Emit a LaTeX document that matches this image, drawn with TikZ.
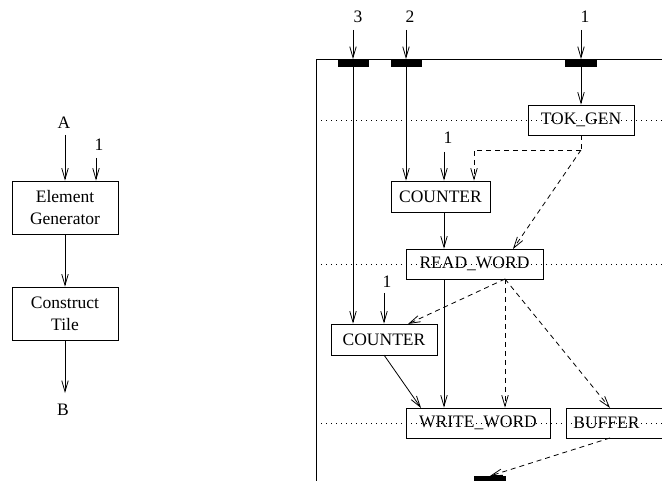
\documentclass[tikz,border=0pt]{standalone}
\usepackage{fontspec}
\setmainfont{Liberation Serif}
\usetikzlibrary{arrows.meta}
\tikzset{
  arr/.style={-{Straight Barb[length=11pt,width=6.5pt]}},
  box/.style={draw, line width=0.8pt, inner sep=0pt, align=center},
  dsh/.style={dash pattern=on 5pt off 4pt},
  dot/.style={dash pattern=on 1pt off 4pt, line width=0.8pt},
  lbl/.style={inner sep=0pt},
  bar/.style={fill=black, draw=none},
}
\begin{document}
\begin{tikzpicture}[x=1pt,y=-1pt,line width=0.8pt,font=\fontsize{17.5}{22}\selectfont]
\useasboundingbox (0,0) rectangle (662,481);
\clip (0,0) rectangle (662,481);
% ---------- left part ----------
\node[box, minimum width=106pt, minimum height=53pt] (EG) at (65,207.5) {Element\\Generator};
\node[box, minimum width=106pt, minimum height=53pt] (CT) at (65,313.5) {Construct\\Tile};
\node[lbl] (A) at (64,123) {A};
\node[lbl] (one0) at (99,145) {1};
\node[lbl] (B) at (63,410) {B};
\coordinate (a0) at (65,135);
\coordinate (o0) at (96,158);
\coordinate (b0) at (65,393);
\draw[arr] (a0) -- (a0 |- EG.north);
\draw[arr] (o0) -- (o0 |- EG.north);
\draw[arr] (EG.south) -- (CT.north);
\draw[arr] (CT.south) -- (b0);
% ---------- right part ----------
\draw[dot] (316,120) -- (662,120);
\draw[dot] (316,264) -- (662,264);
\draw[dot] (316,423) -- (662,423);
\draw (662,59) -- (316,59) -- (316,481);
\fill[bar] (338,59) rectangle (369,67);
\fill[bar] (391,59) rectangle (422,67);
\fill[bar] (565,59) rectangle (597,67);
\fill[bar] (474,476) rectangle (506,485);
\node[lbl] (L3) at (358,17) {3};
\node[lbl] (L2) at (410,17) {2};
\node[lbl] (L1) at (585,17) {1};
\coordinate (i3) at (353,30); \coordinate (p3) at (353,59);
\coordinate (i2) at (406,30); \coordinate (p2) at (406,59);
\coordinate (i1) at (581,30); \coordinate (p1) at (581,59);
% boxes
\node[box, minimum width=106pt, minimum height=30pt] (TOK) at (581,120) {TOK\_GEN};
\node[box, minimum width=99pt, minimum height=31pt] (C1) at (440.5,196.5) {COUNTER};
\node[box, minimum width=137pt, minimum height=30pt] (RW) at (474.5,264) {READ\_WORD};
\node[box, minimum width=106pt, minimum height=31pt] (C2) at (384,339.5) {COUNTER};
\node[box, minimum width=144pt, minimum height=30pt] (WW) at (478,423) {WRITE\_WORD};
\node[box, anchor=west, minimum height=30pt, text width=96pt, inner xsep=7pt, align=left] (BUF) at (566,423) {BUFFER};
\node[lbl] (one1) at (448,138) {1};
\node[lbl] (one2) at (387,282) {1};
\coordinate (o1) at (444,152);
\coordinate (o2) at (384,293);
% inputs
\draw[arr] (i3) -- (p3);
\draw[arr] (i2) -- (p2);
\draw[arr] (i1) -- (p1);
\draw[arr] (p3) -- (p3 |- C2.north);
\draw[arr] (p2) -- (p2 |- C1.north);
\draw[arr] (p1) -- (TOK.north);
\draw[arr] (o1) -- (o1 |- C1.north);
\draw[arr] (o2) -- (o2 |- C2.north);
% solid data flow
\coordinate (x444) at (444,0);
\draw[arr] (C1.south -| x444) -- (RW.north -| x444);
\draw[arr] (RW.south -| x444) -- (WW.north -| x444);
\coordinate (c2o) at (384,355);
\coordinate (wwi) at (421,408);
\draw[arr] (c2o) -- (wwi);
% dashed control flow
\coordinate (J) at (581,150);
\coordinate (jl) at (474,150);
\coordinate (rwi) at (513,249);
\draw[dsh] (TOK.south) -- (J);
\draw[dsh,arr] (J) -- (jl) -- (jl |- C1.north);
\draw[dsh,arr] (J) -- (rwi);
\coordinate (rwo) at (505,279);
\coordinate (c2i) at (408,324);
\coordinate (bufi) at (610,408);
\coordinate (bufo) at (610,438);
\coordinate (sink) at (490,476);
\draw[dsh,arr] (rwo) -- (c2i);
\draw[dsh,arr] (rwo) -- (rwo |- WW.north);
\draw[dsh,arr] (rwo) -- (bufi);
\draw[dsh,arr] (bufo) -- (sink);
\end{tikzpicture}
\end{document}
